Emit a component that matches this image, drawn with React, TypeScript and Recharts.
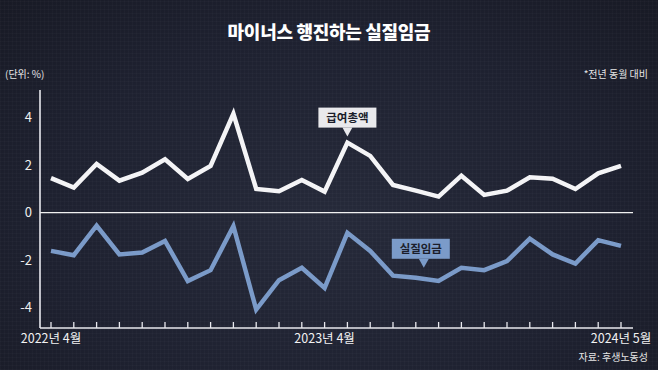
import React from 'react';
import { LineChart, Line, XAxis, YAxis, ReferenceLine, ReferenceDot } from 'recharts';

const months = [
  '2022년 4월', '2022년 5월', '2022년 6월', '2022년 7월', '2022년 8월', '2022년 9월',
  '2022년 10월', '2022년 11월', '2022년 12월', '2023년 1월', '2023년 2월', '2023년 3월',
  '2023년 4월', '2023년 5월', '2023년 6월', '2023년 7월', '2023년 8월', '2023년 9월',
  '2023년 10월', '2023년 11월', '2023년 12월', '2024년 1월', '2024년 2월', '2024년 3월',
  '2024년 4월', '2024년 5월',
];

// 급여총액 (전년 동월 대비, %)
const totalPay = [
  1.45, 1.05, 2.04, 1.34, 1.68, 2.24, 1.41, 1.96, 4.15, 0.99, 0.9, 1.37, 0.88,
  2.94, 2.38, 1.16, 0.92, 0.67, 1.55, 0.74, 0.92, 1.48, 1.42, 0.99, 1.65, 1.96,
];

// 실질임금 (전년 동월 대비, %)
const realWage = [
  -1.61, -1.79, -0.55, -1.76, -1.68, -1.19, -2.88, -2.42, -0.57, -4.08, -2.84, -2.32, -3.17,
  -0.85, -1.61, -2.65, -2.74, -2.87, -2.32, -2.42, -2.04, -1.1, -1.76, -2.14, -1.16, -1.4,
];

const yTicks = [-4, -2, 0, 2, 4];
const labeledMonths = ['2022년 4월', '2023년 4월', '2024년 5월'];

const data = months.map((month, i) => ({ month, total: totalPay[i], real: realWage[i] }));

const FONT = '"Noto Sans CJK KR", "Noto Sans", sans-serif';

function MonthTick({ x, y, payload }: any) {
  const show = labeledMonths.includes(payload.value);
  return (
    <g>
      <line x1={x} x2={x} y1={y - 6} y2={y} stroke="#e8e8ee" strokeWidth={1.3} />
      {show && (
        <text x={x} y={y + 15} textAnchor="middle" fill="#f2f2f2" fontSize={12.5} fontFamily={FONT}>
          {payload.value}
        </text>
      )}
    </g>
  );
}

function Callout({ cx, cy, text, fill, lift, dx, tipDx }: any) {
  const w = 58;
  const h = 20;
  const tipY = cy - lift;
  const boxBottom = tipY - 9;
  const boxTop = boxBottom - h;
  const bx = cx + dx;
  const tx = cx + tipDx;
  return (
    <g>
      <rect x={bx - w / 2} y={boxTop} width={w} height={h} fill={fill} />
      <polygon points={`${tx - 5},${boxBottom} ${tx + 5},${boxBottom} ${tx},${tipY}`} fill={fill} />
      <text
        x={bx}
        y={boxTop + h / 2 + 4}
        textAnchor="middle"
        fill="#1b1e2b"
        fontSize={11.5}
        fontWeight={700}
        fontFamily={FONT}
      >
        {text}
      </text>
    </g>
  );
}

export default function App() {
  return (
    <div
      style={{
        position: 'absolute',
        left: 0,
        top: 0,
        width: 658,
        height: 370,
        overflow: 'hidden',
        fontFamily: FONT,
        backgroundColor: '#1d202d',
        backgroundImage:
          'repeating-linear-gradient(0deg, rgba(255,255,255,0.018) 0 1px, transparent 1px 4px),' +
          'repeating-linear-gradient(90deg, rgba(255,255,255,0.018) 0 1px, transparent 1px 4px),' +
          'radial-gradient(ellipse at 50% 60%, #262a3a 0%, #1e2130 60%, #181a25 100%)',
      }}
    >
      <div
        style={{
          position: 'absolute',
          top: 18,
          width: '100%',
          textAlign: 'center',
          color: '#ffffff',
          fontSize: 18,
          fontWeight: 900,
          letterSpacing: -0.3,
        }}
      >
        마이너스 행진하는 실질임금
      </div>
      <div style={{ position: 'absolute', left: 5, top: 66, color: '#e6e6e6', fontSize: 10 }}>(단위: %)</div>
      <div style={{ position: 'absolute', right: 10, top: 66, color: '#e6e6e6', fontSize: 10 }}>*전년 동월 대비</div>
      <div style={{ position: 'absolute', right: 10, top: 349, color: '#e6e6e6', fontSize: 10 }}>자료: 후생노동성</div>

      <div style={{ position: 'absolute', left: 0, top: 0 }}>
        <LineChart width={658} height={370} data={data} margin={{ top: 90, right: 25, bottom: 12, left: 0 }}>
          <XAxis
            dataKey="month"
            interval={0}
            height={30}
            padding={{ left: 11, right: 12 }}
            axisLine={{ stroke: '#e8e8ee', strokeWidth: 1.6 }}
            tickLine={false}
            tickSize={0}
            tickMargin={0}
            tick={<MonthTick />}
          />
          <YAxis
            width={40}
            domain={[-4.85, 5.15]}
            ticks={yTicks}
            allowDataOverflow
            axisLine={{ stroke: '#e8e8ee', strokeWidth: 1.6 }}
            tickLine={false}
            tickSize={0}
            tickMargin={8}
            tick={{ fill: '#f0f0f0', fontSize: 13, fontFamily: FONT }}
          />
          <ReferenceLine y={0} stroke="#f0f0f0" strokeWidth={1.2} />
          <Line
            type="linear"
            dataKey="real"
            stroke="#7b9bc9"
            strokeWidth={4.5}
            strokeLinejoin="miter"
            dot={false}
            isAnimationActive={false}
          />
          <Line
            type="linear"
            dataKey="total"
            stroke="#f4f4f6"
            strokeWidth={4.5}
            strokeLinejoin="miter"
            dot={false}
            isAnimationActive={false}
          />
          <ReferenceDot
            x={months[13]}
            y={totalPay[13]}
            r={0}
            shape={(p: any) => (
              <Callout cx={p.cx} cy={p.cy} text="급여총액" fill="#e9e9ec" lift={6} dx={0} tipDx={0} />
            )}
          />
          <ReferenceDot
            x={months[16]}
            y={realWage[16]}
            r={0}
            shape={(p: any) => (
              <Callout cx={p.cx} cy={p.cy} text="실질임금" fill="#7b9bc9" lift={10} dx={5} tipDx={8} />
            )}
          />
        </LineChart>
      </div>
    </div>
  );
}
